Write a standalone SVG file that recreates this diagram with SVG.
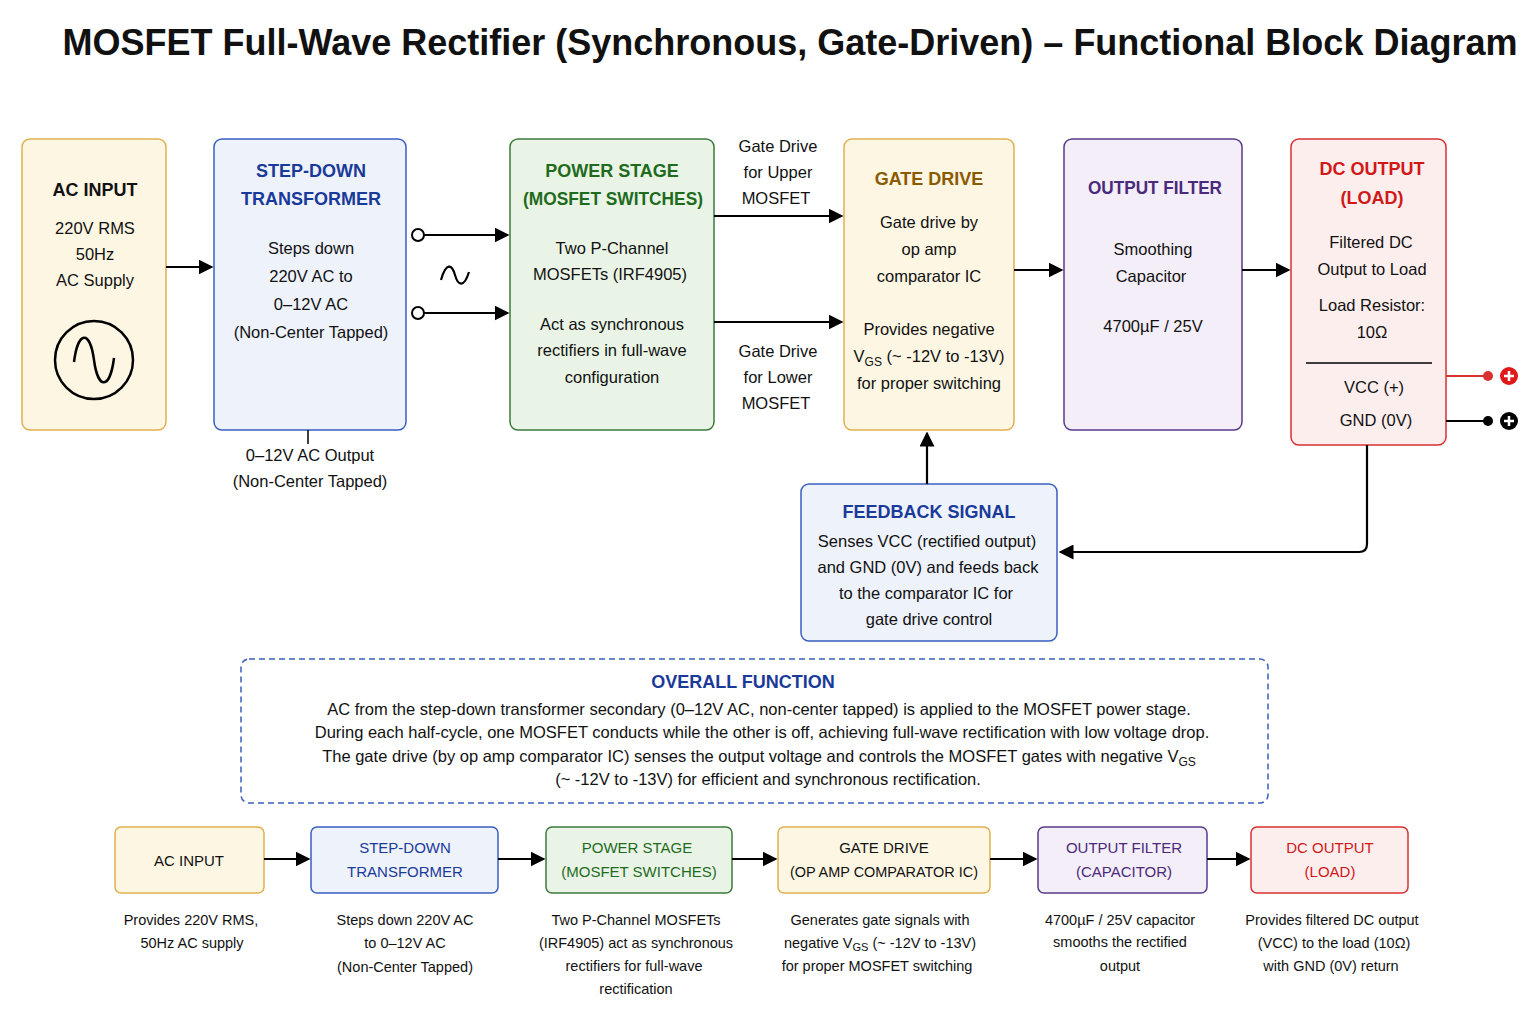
<svg xmlns="http://www.w3.org/2000/svg" width="1536" height="1024" viewBox="0 0 1536 1024">
<defs>
<marker id="ah2" viewBox="0 0 10 10" refX="9" refY="5" markerWidth="15" markerHeight="15" markerUnits="userSpaceOnUse" orient="auto"><path d="M0,0 L10,5 L0,10 z" fill="#000"/></marker>
</defs>
<style>
text{font-family:"Liberation Sans",Arial,sans-serif;fill:#111;text-anchor:middle}
.t{font-size:18px;font-weight:bold}
.b{font-size:16.5px}
.s{font-size:14.5px}
.st{font-size:15px}
.ln{stroke:#000;stroke-width:2.2;fill:none}
.yel{fill:#fdf6e3;stroke:#e0b050;stroke-width:1.5}
.blu{fill:#eef2fb;stroke:#3a5fbf;stroke-width:1.5}
.grn{fill:#eaf4e6;stroke:#3c7a3c;stroke-width:1.5}
.pur{fill:#f3eef8;stroke:#5a3a8a;stroke-width:1.5}
.red{fill:#fdeeee;stroke:#d93030;stroke-width:1.5}
</style>
<rect width="1536" height="1024" fill="#fff"/>
<text x="790" y="55" style="font-size:36px;font-weight:bold">MOSFET Full-Wave Rectifier (Synchronous, Gate-Driven) – Functional Block Diagram</text>

<g id="ac-input"><rect class="yel" x="22" y="139" width="144" height="291" rx="8"/>
<text class="t" x="95" y="196">AC INPUT</text>
<text class="b" x="95" y="234">220V RMS</text><text class="b" x="95" y="260">50Hz</text><text class="b" x="95" y="286">AC Supply</text>
<circle cx="94" cy="360" r="39" fill="none" stroke="#000" stroke-width="2.5"/>
<path d="M74,362 C78,330 90,330 94,360 C98,390 110,390 114,358" fill="none" stroke="#000" stroke-width="2.5"/></g>

<g id="transformer"><rect class="blu" x="214" y="139" width="192" height="291" rx="8"/>
<text class="t" x="311" y="177" style="fill:#1a3a9a">STEP-DOWN</text>
<text class="t" x="311" y="205" style="fill:#1a3a9a">TRANSFORMER</text>
<text class="b" x="311" y="254">Steps down</text><text class="b" x="311" y="282">220V AC to</text><text class="b" x="311" y="310">0–12V AC</text><text class="b" x="311" y="338">(Non-Center Tapped)</text>
<text class="b" x="310" y="461">0–12V AC Output</text><text class="b" x="310" y="487">(Non-Center Tapped)</text></g>

<g id="power-stage"><rect class="grn" x="510" y="139" width="204" height="291" rx="8"/>
<text class="t" x="612" y="177" style="fill:#1e6b1e">POWER STAGE</text>
<text class="t" x="613" y="205" style="fill:#1e6b1e" textLength="180" lengthAdjust="spacingAndGlyphs">(MOSFET SWITCHES)</text>
<text class="b" x="612" y="254">Two P-Channel</text><text class="b" x="610" y="280">MOSFETs (IRF4905)</text>
<text class="b" x="612" y="330">Act as synchronous</text><text class="b" x="612" y="356">rectifiers in full-wave</text><text class="b" x="612" y="383">configuration</text></g>

<g id="gate-drive"><rect class="yel" x="844" y="139" width="170" height="291" rx="8"/>
<text class="t" x="929" y="185" style="fill:#8a5a00">GATE DRIVE</text>
<text class="b" x="929" y="228">Gate drive by</text><text class="b" x="929" y="255">op amp</text><text class="b" x="929" y="282">comparator IC</text>
<text class="b" x="929" y="335">Provides negative</text>
<text class="b" x="929" y="362">V<tspan font-size="12" dy="4">GS</tspan><tspan dy="-4"> (~ -12V to -13V)</tspan></text>
<text class="b" x="929" y="389">for proper switching</text></g>

<g id="output-filter"><rect class="pur" x="1064" y="139" width="178" height="291" rx="8"/>
<text class="t" x="1155" y="194" style="fill:#4a2a7a" textLength="134" lengthAdjust="spacingAndGlyphs">OUTPUT FILTER</text>
<text class="b" x="1153" y="255">Smoothing</text><text class="b" x="1151" y="282">Capacitor</text>
<text class="b" x="1153" y="332">4700µF / 25V</text></g>

<g id="dc-output"><rect class="red" x="1291" y="139" width="155" height="306" rx="8"/>
<text class="t" x="1372" y="175" style="fill:#d01818">DC OUTPUT</text>
<text class="t" x="1372" y="204" style="fill:#d01818">(LOAD)</text>
<text class="b" x="1371" y="248">Filtered DC</text><text class="b" x="1372" y="275">Output to Load</text>
<text class="b" x="1372" y="311">Load Resistor:</text><text class="b" x="1372" y="338">10Ω</text>
<line x1="1306" y1="363" x2="1432" y2="363" stroke="#000" stroke-width="1.5"/>
<text class="b" x="1374" y="393">VCC (+)</text><text class="b" x="1376" y="426">GND (0V)</text>
<line x1="1446" y1="376" x2="1488" y2="376" stroke="#d93030" stroke-width="2"/><circle cx="1488" cy="376" r="5" fill="#d93030"/>
<circle cx="1509" cy="376" r="9" fill="#e01818"/><path d="M1509,371 v10 M1504,376 h10" stroke="#fff" stroke-width="2.5"/>
<line x1="1446" y1="421" x2="1488" y2="421" stroke="#000" stroke-width="2"/><circle cx="1488" cy="421" r="5" fill="#000"/>
<circle cx="1509" cy="421" r="9" fill="#000"/><path d="M1509,416 v10 M1504,421 h10" stroke="#fff" stroke-width="2.5"/></g>

<g id="feedback"><rect class="blu" x="801" y="484" width="256" height="157" rx="8"/>
<text class="t" x="929" y="518" style="fill:#1a3a9a">FEEDBACK SIGNAL</text>
<text class="b" x="927" y="547">Senses VCC (rectified output)</text><text class="b" x="928" y="573">and GND (0V) and feeds back</text>
<text class="b" x="926" y="599">to the comparator IC for</text><text class="b" x="929" y="625">gate drive control</text></g>

<g id="connectors">
<line class="ln" x1="166" y1="267" x2="212" y2="267" marker-end="url(#ah2)"/>
<line class="ln" x1="424" y1="235" x2="508" y2="235" marker-end="url(#ah2)"/>
<line class="ln" x1="424" y1="313" x2="508" y2="313" marker-end="url(#ah2)"/>
<circle cx="418" cy="235" r="6" fill="#fff" stroke="#000" stroke-width="2"/>
<circle cx="418" cy="313" r="6" fill="#fff" stroke="#000" stroke-width="2"/>
<path d="M441,280 C446,262 452,264 455,275 C458,286 464,288 469,272" fill="none" stroke="#000" stroke-width="2.2"/>
<line x1="308" y1="430" x2="308" y2="444" stroke="#000" stroke-width="1.5"/>
<line class="ln" x1="714" y1="216" x2="842" y2="216" marker-end="url(#ah2)"/>
<line class="ln" x1="714" y1="322" x2="842" y2="322" marker-end="url(#ah2)"/>
<text class="b" x="778" y="152">Gate Drive</text><text class="b" x="778" y="178">for Upper</text><text class="b" x="776" y="204">MOSFET</text>
<text class="b" x="778" y="357">Gate Drive</text><text class="b" x="778" y="383">for Lower</text><text class="b" x="776" y="409">MOSFET</text>
<line class="ln" x1="1014" y1="270" x2="1062" y2="270" marker-end="url(#ah2)"/>
<line class="ln" x1="1242" y1="270" x2="1289" y2="270" marker-end="url(#ah2)"/>
<path class="ln" d="M1367,445 V544 Q1367,552 1359,552 H1060" marker-end="url(#ah2)"/>
<line class="ln" x1="927" y1="484" x2="927" y2="433" marker-end="url(#ah2)"/>
</g>

<g id="overall"><rect x="241" y="659" width="1027" height="144" rx="8" fill="#fff" stroke="#3a5fbf" stroke-width="1.5" stroke-dasharray="6,4"/>
<text class="t" x="743" y="688" style="fill:#1a3a9a">OVERALL FUNCTION</text>
<text class="b" x="759" y="715">AC from the step-down transformer secondary (0–12V AC, non-center tapped) is applied to the MOSFET power stage.</text>
<text class="b" x="762" y="738">During each half-cycle, one MOSFET conducts while the other is off, achieving full-wave rectification with low voltage drop.</text>
<text class="b" x="759" y="762">The gate drive (by op amp comparator IC) senses the output voltage and controls the MOSFET gates with negative V<tspan font-size="12" dy="4">GS</tspan></text>
<text class="b" x="768" y="785">(~ -12V to -13V) for efficient and synchronous rectification.</text></g>

<g id="b-ac"><rect class="yel" x="115" y="827" width="149" height="66" rx="6"/><text class="st" x="189" y="866">AC INPUT</text>
<text class="s" x="191" y="925">Provides 220V RMS,</text><text class="s" x="192" y="948">50Hz AC supply</text></g>
<g id="b-tr"><rect class="blu" x="311" y="827" width="187" height="66" rx="6"/><text class="st" x="405" y="853" style="fill:#1a3a9a">STEP-DOWN</text><text class="st" x="405" y="877" style="fill:#1a3a9a">TRANSFORMER</text>
<text class="s" x="405" y="925">Steps down 220V AC</text><text class="s" x="405" y="948">to 0–12V AC</text><text class="s" x="405" y="972">(Non-Center Tapped)</text></g>
<g id="b-ps"><rect class="grn" x="546" y="827" width="186" height="66" rx="6"/><text class="st" x="637" y="853" style="fill:#1e6b1e">POWER STAGE</text><text class="st" x="639" y="877" style="fill:#1e6b1e">(MOSFET SWITCHES)</text>
<text class="s" x="636" y="925">Two P-Channel MOSFETs</text><text class="s" x="636" y="948">(IRF4905) act as synchronous</text><text class="s" x="634" y="971">rectifiers for full-wave</text><text class="s" x="636" y="994">rectification</text></g>
<g id="b-gd"><rect class="yel" x="778" y="827" width="212" height="66" rx="6"/><text class="st" x="884" y="853">GATE DRIVE</text><text class="st" x="884" y="877" textLength="188" lengthAdjust="spacingAndGlyphs">(OP AMP COMPARATOR IC)</text>
<text class="s" x="880" y="925">Generates gate signals with</text><text class="s" x="880" y="948">negative V<tspan font-size="11" dy="3">GS</tspan><tspan dy="-3"> (~ -12V to -13V)</tspan></text><text class="s" x="877" y="971">for proper MOSFET switching</text></g>
<g id="b-of"><rect class="pur" x="1038" y="827" width="169" height="66" rx="6"/><text class="st" x="1124" y="853" style="fill:#4a2a7a">OUTPUT FILTER</text><text class="st" x="1124" y="877" style="fill:#4a2a7a">(CAPACITOR)</text>
<text class="s" x="1120" y="925">4700µF / 25V capacitor</text><text class="s" x="1120" y="947">smooths the rectified</text><text class="s" x="1120" y="971">output</text></g>
<g id="b-dc"><rect class="red" x="1251" y="827" width="157" height="66" rx="6"/><text class="st" x="1330" y="853" style="fill:#d01818">DC OUTPUT</text><text class="st" x="1330" y="877" style="fill:#d01818">(LOAD)</text>
<text class="s" x="1332" y="925">Provides filtered DC output</text><text class="s" x="1334" y="948">(VCC) to the load (10Ω)</text><text class="s" x="1331" y="971">with GND (0V) return</text></g>
<g id="bottom-connectors">
<line class="ln" x1="264" y1="859" x2="309" y2="859" marker-end="url(#ah2)"/>
<line class="ln" x1="498" y1="859" x2="544" y2="859" marker-end="url(#ah2)"/>
<line class="ln" x1="732" y1="859" x2="776" y2="859" marker-end="url(#ah2)"/>
<line class="ln" x1="990" y1="859" x2="1036" y2="859" marker-end="url(#ah2)"/>
<line class="ln" x1="1207" y1="859" x2="1249" y2="859" marker-end="url(#ah2)"/>
</g>
</svg>
